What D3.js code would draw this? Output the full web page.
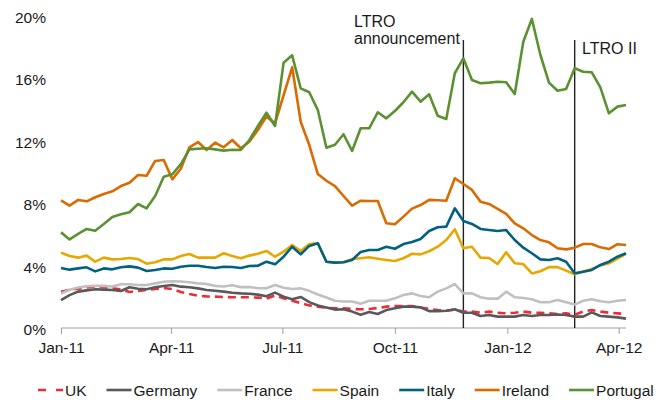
<!DOCTYPE html>
<html>
<head>
<meta charset="utf-8">
<script src="https://cdn.jsdelivr.net/npm/d3@7"></script>
<style>
  html, body { margin: 0; padding: 0; background: #fff; }
  svg { display: block; font-family: "Liberation Sans", Arial, sans-serif; }
</style>
</head>
<body>
<svg id="chart" width="665" height="400"></svg>
<script>
// Weekly observations, first week starting 1 Jan 2011
const firstWeek = new Date(2011, 0, 1);
const weekCount = 67;

const seriesNames = ["UK", "Germany", "France", "Spain", "Italy", "Ireland", "Portugal"];

const uk = [2.33, 2.44, 2.52, 2.6, 2.65, 2.61, 2.54, 2.48, 2.31, 2.37, 2.44, 2.5, 2.56, 2.5, 2.31, 2.18, 2.07, 2.03, 2.01, 1.99,
  1.97, 1.97, 1.97, 1.95, 1.88, 2.08, 1.9, 1.75, 1.6, 1.45, 1.37, 1.3, 1.26, 1.26, 1.22, 1.2, 1.22, 1.28, 1.37, 1.41,
  1.4, 1.41, 1.32, 1.22, 1.15, 1.11, 1.18, 1.05, 1.05, 0.98, 1.05, 0.98, 0.94, 0.98, 1.05, 0.98, 0.98, 0.94, 0.9, 0.94,
  0.85, 1.05, 1.15, 1.05, 0.98, 0.94, 0.9];
const germany = [1.79, 2.11, 2.33, 2.41, 2.48, 2.46, 2.44, 2.37, 2.61, 2.52, 2.48, 2.61, 2.69, 2.76, 2.65, 2.61, 2.54, 2.44, 2.39, 2.33,
  2.26, 2.22, 2.2, 2.14, 2.04, 2.27, 2.01, 1.85, 1.99, 1.66, 1.44, 1.32, 1.18, 1.2, 1.05, 0.85, 1.03, 0.9, 1.15, 1.26,
  1.37, 1.37, 1.32, 1.08, 1.08, 1.11, 1.2, 0.98, 0.98, 0.77, 0.83, 0.73, 0.73, 0.73, 0.83, 0.77, 0.83, 0.83, 0.87, 0.83,
  0.73, 0.73, 1.0, 0.77, 0.73, 0.68, 0.6];
const france = [2.2, 2.45, 2.6, 2.68, 2.7, 2.7, 2.66, 2.8, 2.8, 2.76, 2.75, 2.86, 2.96, 3.0, 2.98, 2.93, 2.86, 2.82, 2.7, 2.66,
  2.74, 2.62, 2.63, 2.55, 2.55, 2.76, 2.58, 2.5, 2.54, 2.38, 2.15, 1.95, 1.75, 1.7, 1.7, 1.55, 1.75, 1.75, 1.75, 1.9,
  2.12, 2.22, 2.05, 1.97, 2.33, 2.54, 2.82, 2.22, 2.22, 1.97, 1.88, 1.88, 2.33, 1.97, 1.92, 1.84, 1.65, 1.65, 1.79, 1.65,
  1.5, 1.75, 1.84, 1.72, 1.65, 1.75, 1.8];
const spain = [4.83, 4.62, 4.51, 4.64, 4.25, 4.51, 4.4, 4.42, 4.49, 4.42, 4.12, 4.21, 4.4, 4.4, 4.62, 4.74, 4.51, 4.51, 4.51, 4.79,
  4.62, 4.47, 4.64, 4.76, 4.94, 4.57, 4.89, 5.32, 4.94, 5.38, 5.43, 4.25, 4.19, 4.21, 4.42, 4.47, 4.53, 4.44, 4.36, 4.29,
  4.47, 4.76, 4.72, 4.92, 5.21, 5.64, 6.33, 5.11, 5.21, 4.51, 4.49, 4.1, 4.86, 4.15, 4.1, 3.5, 3.64, 3.9, 3.9, 3.68,
  3.45, 3.62, 3.78, 4.0, 4.15, 4.45, 4.75];
const italy = [3.85, 3.74, 3.82, 3.89, 3.63, 3.82, 3.76, 3.89, 3.95, 3.87, 3.65, 3.72, 3.82, 3.8, 3.93, 3.99, 3.99, 3.91, 3.85, 3.93,
  3.91, 3.85, 3.97, 3.99, 4.25, 4.08, 4.57, 5.21, 4.72, 5.26, 5.43, 4.25, 4.19, 4.21, 4.36, 4.87, 5.0, 5.0, 5.21, 5.08,
  5.38, 5.51, 5.71, 6.22, 6.46, 6.5, 7.67, 6.86, 6.67, 6.35, 6.28, 6.22, 6.28, 5.64, 5.15, 4.79, 4.4, 4.36, 4.47, 4.25,
  3.51, 3.61, 3.72, 4.04, 4.25, 4.57, 4.79];
const ireland = [8.18, 7.84, 8.21, 8.12, 8.38, 8.59, 8.76, 9.1, 9.31, 9.81, 9.76, 10.71, 10.77, 9.53, 10.21, 11.58, 11.92, 11.41, 11.88, 11.58,
  12.05, 11.52, 11.94, 12.69, 13.55, 13.12, 14.92, 16.71, 13.22, 11.73, 9.87, 9.44, 9.1, 8.46, 7.84, 8.16, 8.14, 8.14, 6.71, 6.65,
  7.14, 7.65, 7.88, 8.21, 8.19, 8.16, 9.6, 9.23, 8.85, 8.1, 7.95, 7.63, 7.31, 6.71, 6.39, 5.96, 5.64, 5.49, 5.11, 5.04,
  5.15, 5.38, 5.38, 5.17, 5.06, 5.37, 5.32];
const portugal = [6.13, 5.68, 6.03, 6.35, 6.24, 6.67, 7.12, 7.29, 7.42, 7.95, 7.67, 8.46, 9.7, 9.85, 10.51, 11.45, 11.49, 11.52, 11.45, 11.37,
  11.43, 11.41, 12.05, 12.95, 13.8, 12.95, 17.01, 17.48, 15.36, 15.11, 13.97, 11.56, 11.75, 12.42, 11.35, 12.8, 12.8, 13.83, 13.44, 13.91,
  14.47, 15.15, 14.51, 14.98, 13.61, 13.4, 16.33, 17.29, 15.9, 15.69, 15.73, 15.79, 15.75, 15.0, 18.35, 19.81, 17.5, 15.73, 15.21, 15.32,
  16.65, 16.43, 16.39, 15.43, 13.76, 14.19, 14.29];

const yTicks = [0, 4, 8, 12, 16, 20];
const xTickDates = ["2011-01-01", "2011-04-01", "2011-07-01", "2011-10-01", "2012-01-01", "2012-04-01"];
const eventWeeks = [47, 60];
const eventLabels = [["LTRO", "announcement"], ["LTRO II"]];

const colors = {
  UK: "#ec2c3b", Germany: "#595959", France: "#c0c0c0", Spain: "#e6a700",
  Italy: "#00627e", Ireland: "#d96b00", Portugal: "#5b9133"
};

const values = { UK: uk, Germany: germany, France: france, Spain: spain, Italy: italy, Ireland: ireland, Portugal: portugal };
const weeks = d3.range(weekCount).map(i => d3.timeDay.offset(firstWeek, 7 * i));
const parse = d3.timeParse("%Y-%m-%d");
const tickDates = xTickDates.map(parse);

const svg = d3.select("#chart");
const plotTop = 16, plotBottom = 328;

const x = d3.scaleTime()
  .domain([tickDates[0], tickDates[tickDates.length - 1]])
  .range([61, 618.7]);
const y = d3.scaleLinear().domain([0, 20]).range([plotBottom, plotTop]);

// y labels (no axis line)
svg.append("g")
  .selectAll("text")
  .data(yTicks)
  .join("text")
  .attr("x", 46)
  .attr("y", d => y(d))
  .attr("dy", "0.45em")
  .attr("text-anchor", "end")
  .attr("font-size", 15.5)
  .attr("fill", "#1a1a1a")
  .text(d => d + "%");

// x axis
const xAxis = d3.axisBottom(x)
  .tickValues(tickDates)
  .tickFormat(d3.timeFormat("%b-%y"))
  .tickSize(6)
  .tickSizeOuter(0);
const gx = svg.append("g")
  .attr("transform", `translate(0,${plotBottom})`)
  .call(xAxis);
gx.select(".domain").remove();
gx.append("line")
  .attr("x1", x(weeks[0])).attr("x2", x(weeks[weeks.length - 1]))
  .attr("stroke", "#a0a0a0").attr("stroke-width", 1);
gx.selectAll(".tick line").attr("stroke", "#a0a0a0");
gx.selectAll(".tick text")
  .attr("font-size", 15.5)
  .attr("font-family", "Liberation Sans, Arial, sans-serif")
  .attr("fill", "#1a1a1a")
  .attr("y", 14)
  .attr("dy", "0.71em");

// event markers
const evG = svg.append("g");
eventWeeks.forEach((wi, k) => {
  const ex = x(weeks[wi]);
  evG.append("line")
    .attr("x1", ex).attr("x2", ex)
    .attr("y1", 40).attr("y2", plotBottom)
    .attr("stroke", "#222").attr("stroke-width", 1.4);
});
evG.append("text").attr("x", 354).attr("y", 27).attr("font-size", 16).attr("fill", "#1a1a1a").text(eventLabels[0][0]);
evG.append("text").attr("x", 354).attr("y", 44).attr("font-size", 16).attr("fill", "#1a1a1a").text(eventLabels[0][1]);
evG.append("text").attr("x", 582).attr("y", 54).attr("font-size", 16).attr("fill", "#1a1a1a").text(eventLabels[1][0]);

// series lines
const line = d3.line()
  .x((d, i) => x(weeks[i]))
  .y(d => y(d));

svg.append("g")
  .selectAll("path")
  .data(seriesNames)
  .join("path")
  .attr("d", name => line(values[name]))
  .attr("fill", "none")
  .attr("stroke", name => colors[name])
  .attr("stroke-width", 2.6)
  .attr("stroke-linejoin", "round")
  .attr("stroke-dasharray", name => name === "UK" ? "8,5" : null);

// legend
const legend = svg.append("g").attr("transform", "translate(0,390)");
let lx = 38;
seriesNames.forEach(name => {
  legend.append("line")
    .attr("x1", lx).attr("x2", lx + 25)
    .attr("y1", 0).attr("y2", 0)
    .attr("stroke", colors[name])
    .attr("stroke-width", 2.6)
    .attr("stroke-dasharray", name === "UK" ? "8,10" : null);
  const t = legend.append("text")
    .attr("x", lx + 27)
    .attr("y", 0)
    .attr("dy", "0.36em")
    .attr("font-size", 15.5)
    .attr("fill", "#1a1a1a")
    .text(name);
  lx += 27 + t.node().getComputedTextLength() + 20;
});
</script>
</body>
</html>
